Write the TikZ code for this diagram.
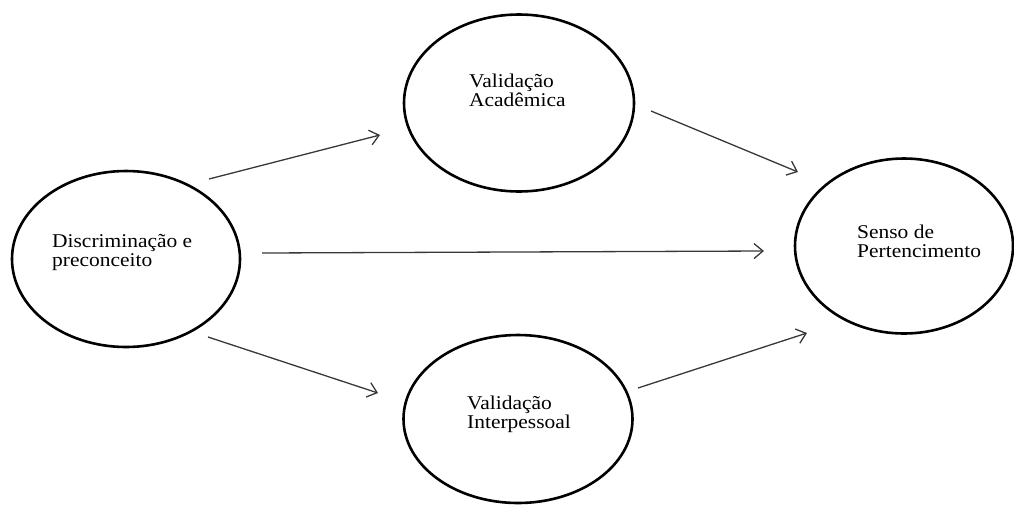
\documentclass[tikz,border=0pt]{standalone}
\usepackage{fontspec}
\setmainfont[FakeStretch=1.1]{Liberation Serif}
\usetikzlibrary{shapes.geometric,arrows.meta}
\begin{document}
\begin{tikzpicture}[x=1pt,y=-1pt,
  bubble/.style={draw=black,line width=2.6pt,ellipse,inner sep=0pt},
  label/.style={anchor=base west,inner sep=0pt,align=left,font=\fontsize{19.5}{19}\selectfont},
  arr/.style={draw=black!78,line width=1.3pt,-{Straight Barb[length=9pt,width=15pt,line width=1.3pt]}}]
\useasboundingbox (0,0) rectangle (1014,507);
\node[bubble,minimum width=228pt,minimum height=176pt] (L) at (126,259) {};
\node[bubble,minimum width=230pt,minimum height=177pt] (T) at (519,103) {};
\node[bubble,minimum width=229pt,minimum height=168pt] (B) at (518,419) {};
\node[bubble,minimum width=218pt,minimum height=175pt] (R) at (904,246) {};
\node[label] (tL) at (52,266) {Discriminação e\\preconceito};
\node[label] (tT) at (469,106) {Validação\\Acadêmica};
\node[label] (tB) at (467,428) {Validação\\Interpessoal};
\node[label] (tR) at (857,257) {Senso de\\Pertencimento};
\coordinate (a1s) at (209,179); \coordinate (a1e) at (380,135);
\coordinate (a2s) at (651,111); \coordinate (a2e) at (798,172);
\coordinate (a3s) at (262,253); \coordinate (a3e) at (764,251);
\coordinate (a4s) at (208,337); \coordinate (a4e) at (378,393);
\coordinate (a5s) at (638,388); \coordinate (a5e) at (807,333);
\draw[arr] (a1s) -- (a1e);
\draw[arr] (a2s) -- (a2e);
\draw[arr] (a3s) -- (a3e);
\draw[arr] (a4s) -- (a4e);
\draw[arr] (a5s) -- (a5e);
\end{tikzpicture}
\end{document}
